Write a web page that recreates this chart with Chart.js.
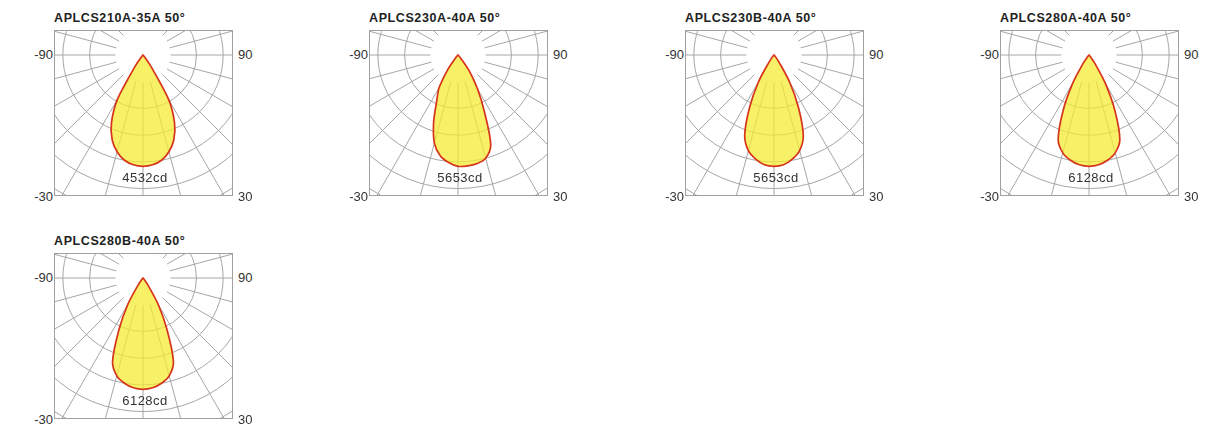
<!DOCTYPE html>
<html>
<head>
<meta charset="utf-8">
<script src="https://cdn.jsdelivr.net/npm/chart.js@4/dist/chart.umd.min.js"></script>
<style>
body { margin: 0; background: #fff; width: 1226px; height: 428px; overflow: hidden; font-family: "Liberation Sans", Arial, sans-serif; }
.cell { position: absolute; width: 179px; height: 166px; }
.box { position: absolute; left: 0; top: 0; width: 179px; height: 166px; box-sizing: border-box; border: 1px solid #a0a0a0; overflow: hidden; }
.box canvas { position: absolute; left: -99px; top: -163px; }
.ttl { position: absolute; left: 0; top: -19px; white-space: nowrap; font-size: 12.5px; line-height: 14px; font-weight: bold; letter-spacing: 0.6px; color: #222; }
.lab { position: absolute; font-size: 13px; line-height: 14px; color: #333; white-space: nowrap; }
.lab.l { right: calc(100% + 1px); }
.lab.r { left: calc(100% + 5px); }
.lab.t { top: 18px; }
.lab.b { top: 160px; }
.cd { position: absolute; left: 0; width: 182px; top: 140px; text-align: center; font-size: 13px; line-height: 16px; letter-spacing: 0.5px; color: #333; }
</style>
</head>
<body>
<script>
const titles = ['APLCS210A-35A 50°', 'APLCS230A-40A 50°', 'APLCS230B-40A 50°', 'APLCS280A-40A 50°', 'APLCS280B-40A 50°'];
const peakCd = [4532, 5653, 5653, 6128, 6128];

// gamma angle from nadir, degrees
const gammaDeg = [0, 5, 10, 15, 20, 25, 30, 35, 40, 45];

// relative intensity (%); 0 beyond 45 deg
const rel210A35A = [100, 99, 96, 90, 81, 67, 46, 12, 2, 0];
const rel230A40ALeft = [100, 97, 92, 82, 64, 45, 34, 16, 3, 0];
const rel230A40ARight = [100, 100, 99, 96, 86, 56, 35, 18, 4, 0];
const rel230B40A = [100, 99, 95, 89, 77, 52, 28, 8, 2, 0];
const rel280A40A = [100, 99, 96, 91, 81, 55, 29, 9, 2, 0];
const rel280B40A = [100, 99, 96, 91, 80, 51, 27, 8, 2, 0];

const leftSide = [rel210A35A, rel230A40ALeft, rel230B40A, rel280A40A, rel280B40A];
const rightSide = [rel210A35A, rel230A40ARight, rel230B40A, rel280A40A, rel280B40A];

const topLabels = ['-90', '90'];
const bottomLabels = ['-30', '30'];

const cellLeft = [54, 369, 685, 1000, 54];
const cellTop = [30, 30, 30, 30, 253];

const gridColor = '#a6a6a6';
const angleStep = 5;
const ringStep = 24;
const ringMax = 168;

function lookup(profile, g) {
    const i = gammaDeg.indexOf(g);
    return i >= 0 ? profile[i] : 0;
}

const hub = {
    id: 'hub',
    beforeDatasetsDraw(chart) {
        const s = chart.scales.r;
        const ctx = chart.ctx;
        ctx.save();
        ctx.fillStyle = '#fff';
        ctx.beginPath();
        ctx.arc(s.xCenter, s.yCenter, s.getDistanceFromCenterForValue(ringStep) + 1, 0, Math.PI * 2);
        ctx.fill();
        ctx.restore();
    }
};

function makeChart(n) {
    const cell = document.createElement('div');
    cell.className = 'cell';
    cell.style.left = cellLeft[n] + 'px';
    cell.style.top = cellTop[n] + 'px';
    cell.innerHTML =
        `<div class="ttl">${titles[n]}</div>` +
        `<div class="box"><canvas id="c${n}" width="374" height="374"></canvas></div>` +
        `<div class="lab l t">${topLabels[0]}</div><div class="lab r t">${topLabels[1]}</div>` +
        `<div class="lab l b">${bottomLabels[0]}</div><div class="lab r b">${bottomLabels[1]}</div>` +
        `<div class="cd">${peakCd[n]}cd</div>`;
    document.body.appendChild(cell);

    // index 0 points down, indices run clockwise: left side first, then right side
    const labels = [], data = [];
    for (let k = 0; k < 360 / angleStep; k++) {
        const a = k * angleStep;
        labels.push(a);
        data.push(a <= 180 ? lookup(leftSide[n], a) : lookup(rightSide[n], 360 - a));
    }

    new Chart(document.getElementById('c' + n), {
        type: 'radar',
        data: {
            labels: labels,
            datasets: [{
                data: data,
                fill: true,
                backgroundColor: 'rgba(245, 235, 50, 0.74)',
                borderColor: '#d6341b',
                borderWidth: 1.7,
                pointRadius: 0,
                pointHoverRadius: 0,
                tension: 0.3
            }]
        },
        options: {
            responsive: false,
            animation: false,
            events: [],
            plugins: { legend: { display: false }, tooltip: { enabled: false } },
            scales: {
                r: {
                    min: 0,
                    max: ringMax,
                    startAngle: 180,
                    ticks: { display: false, stepSize: ringStep },
                    pointLabels: { display: false },
                    grid: { circular: true, color: gridColor, lineWidth: 1 },
                    angleLines: {
                        color: gridColor,
                        lineWidth: ctx => (ctx.index * angleStep) % 15 === 0 ? 1 : 0
                    }
                }
            }
        },
        plugins: [hub]
    });
}

titles.forEach((t, n) => makeChart(n));
</script>
</body>
</html>
